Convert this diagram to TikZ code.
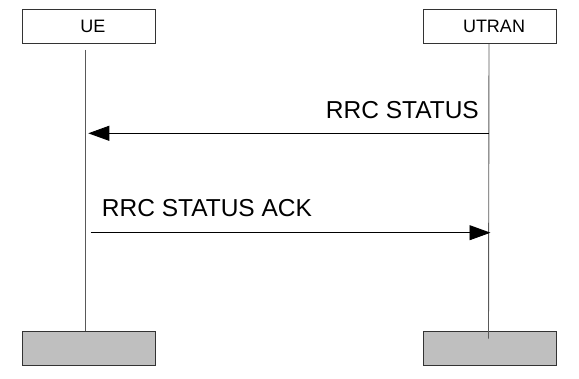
\documentclass[tikz,border=0pt]{standalone}
\usepackage{fontspec}
\setmainfont{Liberation Sans}
\usetikzlibrary{arrows.meta}

\tikzset{
	headbox/.style={draw=black!80, line width=0.8pt, minimum width=133pt, minimum height=34pt, inner sep=0pt, font=\fontsize{18}{20}\selectfont},
	footbox/.style={headbox, fill=black!25},
	lifeline/.style={draw=black!65, line width=0.9pt},
	msg/.style={line width=0.9pt, -{Triangle[length=21pt,width=15pt]}},
	msglabel/.style={inner sep=0pt, font=\fontsize{24.5}{28}\selectfont}
}

\begin{document}
\begin{tikzpicture}[x=1pt,y=-1pt]
		\useasboundingbox (0,0) rectangle (579,378);
		% entities
		\node[headbox] (ue) at (88.5,26.5) {\hspace*{9pt}UE};
		\node[headbox] (utran) at (489.5,26.5) {\hspace*{9pt}UTRAN};
		\node[footbox] (ueend) at (88.5,348.5) {};
		\node[footbox] (utranend) at (489.5,348.5) {};
		% lifelines
		\draw[lifeline] ([xshift=-3pt,yshift=-6pt]ue.south) -- ([xshift=-3pt]ueend.north);
		\draw[lifeline] ([xshift=-0.5pt]utran.south) -- ([xshift=-1pt,yshift=-7.5pt]utranend.north);
		% messages
		\coordinate (s1) at (488.5,133.3);
		\coordinate (r1) at (88.3,133.3);
		\coordinate (s2) at (90.7,232.7);
		\coordinate (r2) at (490.5,232.7);
		\draw[msg] (s1) -- (r1);
		\node[msglabel, anchor=base east] (l1) at (479,118) {RRC STATUS};
		\draw[msg] (s2) -- (r2);
		\node[msglabel, anchor=base west] (l2) at (101.7,216.7) {RRC STATUS ACK};
	\end{tikzpicture}
\end{document}
